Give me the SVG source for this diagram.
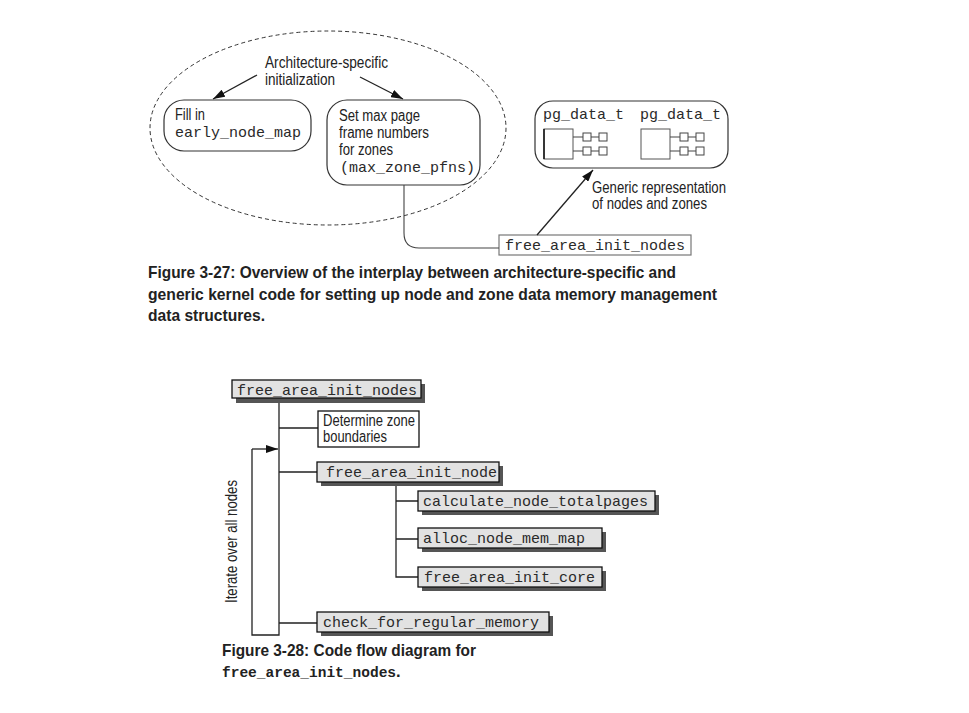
<svg xmlns="http://www.w3.org/2000/svg" width="969" height="713" viewBox="0 0 969 713">
<style>
.sans{font-family:"Liberation Sans",Arial,sans-serif;font-size:16px;fill:#222}
.mono{font-family:"Liberation Mono","Courier New",monospace;font-size:15px;fill:#2a2a2a}
.cap{font-family:"Liberation Sans",Arial,sans-serif;font-size:16.5px;font-weight:bold;fill:#222}
.capm{font-family:"Liberation Mono","Courier New",monospace;font-size:14.5px;font-weight:bold;fill:#222}
.rbox{fill:#fff;stroke:#333;stroke-width:1.2}
.line{fill:none;stroke:#222;stroke-width:1.3}
.gline{fill:none;stroke:#444;stroke-width:1.1}
.sbox{fill:#e2e2e2;stroke:#111;stroke-width:1.3}
.shadow{fill:#555}
</style>
<defs>
<marker id="arr" markerWidth="12" markerHeight="8" refX="12" refY="4" orient="auto" markerUnits="userSpaceOnUse">
<path d="M0,0 L12,4 L0,8 z" fill="#111"/>
</marker>
</defs>
<rect width="969" height="713" fill="#fff"/>

<!-- Figure 3-27 -->
<g id="arch-region">
<ellipse cx="328" cy="128" rx="178" ry="97" fill="none" stroke="#333" stroke-width="1" stroke-dasharray="4 3"/>
<text class="sans" x="265" y="68" textLength="123" lengthAdjust="spacingAndGlyphs">Architecture-specific</text>
<text class="sans" x="265" y="85" textLength="70" lengthAdjust="spacingAndGlyphs">initialization</text>
</g>
<g id="fill-in">
<rect class="rbox" x="164" y="100" width="147" height="51" rx="20"/>
<text class="sans" x="175" y="120" textLength="30" lengthAdjust="spacingAndGlyphs">Fill in</text>
<text class="mono" x="175" y="137">early_node_map</text>
</g>
<g id="set-max">
<rect class="rbox" x="327" y="100" width="153" height="85" rx="20"/>
<text class="sans" x="339" y="121" textLength="81" lengthAdjust="spacingAndGlyphs">Set max page</text>
<text class="sans" x="339" y="138" textLength="90" lengthAdjust="spacingAndGlyphs">frame numbers</text>
<text class="sans" x="339" y="155" textLength="54" lengthAdjust="spacingAndGlyphs">for zones</text>
<text class="mono" x="340" y="172">(max_zone_pfns)</text>
</g>
<g id="pg-data">
<rect class="rbox" x="535" y="101" width="193" height="67" rx="18"/>
<text class="mono" x="543" y="119">pg_data_t</text>
<text class="mono" x="640" y="119">pg_data_t</text>
<rect x="544" y="129" width="29" height="30" fill="#fff" stroke="#555" stroke-width="1"/>
<line x1="544" y1="129" x2="544" y2="159" stroke="#111" stroke-width="1.5"/>
<path class="gline" d="M573,137 H583 M591,137 H599 M573,151 H583 M591,151 H599"/>
<rect x="583" y="133" width="8" height="8" fill="#fff" stroke="#444"/>
<rect x="599" y="133" width="8" height="8" fill="#fff" stroke="#444"/>
<rect x="583" y="147" width="8" height="8" fill="#fff" stroke="#444"/>
<rect x="599" y="147" width="8" height="8" fill="#fff" stroke="#444"/>
<rect x="641" y="129" width="29" height="30" fill="#fff" stroke="#555" stroke-width="1"/>
<path class="gline" d="M670,137 H680 M688,137 H696 M670,151 H680 M688,151 H696"/>
<rect x="680" y="133" width="8" height="8" fill="#fff" stroke="#444"/>
<rect x="696" y="133" width="8" height="8" fill="#fff" stroke="#444"/>
<rect x="680" y="147" width="8" height="8" fill="#fff" stroke="#444"/>
<rect x="696" y="147" width="8" height="8" fill="#fff" stroke="#444"/>
</g>
<g id="generic-label">
<text class="sans" x="592" y="193" textLength="134" lengthAdjust="spacingAndGlyphs">Generic representation</text>
<text class="sans" x="592" y="209" textLength="115" lengthAdjust="spacingAndGlyphs">of nodes and zones</text>
</g>
<g id="fain-top">
<rect x="499" y="235" width="192" height="20" fill="#fff" stroke="#777" stroke-width="1.2"/>
<text class="mono" x="505" y="250">free_area_init_nodes</text>
</g>
<g id="connectors-top">
<line class="line" x1="257" y1="75" x2="213" y2="99" marker-end="url(#arr)"/>
<line class="line" x1="360" y1="77" x2="403" y2="99" marker-end="url(#arr)"/>
<line class="line" x1="537" y1="235" x2="593" y2="170" marker-end="url(#arr)"/>
<path class="gline" d="M404,185 V233 Q404,248 419,248 H499"/>
</g>
<g id="caption-27">
<text class="cap" x="148" y="278" textLength="528" lengthAdjust="spacingAndGlyphs">Figure 3-27: Overview of the interplay between architecture-specific and</text>
<text class="cap" x="148" y="300" textLength="569" lengthAdjust="spacingAndGlyphs">generic kernel code for setting up node and zone data memory management</text>
<text class="cap" x="148" y="321" textLength="117" lengthAdjust="spacingAndGlyphs">data structures.</text>
</g>

<!-- Figure 3-28 -->
<g id="connectors-bottom">
<path class="line" d="M279,398 V635 H252 V449"/>
<line class="line" x1="252" y1="449" x2="278" y2="449" marker-end="url(#arr)"/>
<path class="line" d="M279,428 H318 M279,472 H317 M279,623 H317"/>
<path class="line" d="M396,482 V577 H418 M396,501 H418 M396,539 H418"/>
</g>
<g id="n-fain">
<rect class="shadow" x="236" y="384" width="189" height="19"/>
<rect class="sbox" x="232" y="380" width="189" height="18"/>
<text class="mono" x="237" y="395">free_area_init_nodes</text>
</g>
<g id="n-determine">
<rect x="318" y="411" width="101" height="36" fill="#fff" stroke="#111" stroke-width="1.3"/>
<text class="sans" x="323" y="426" textLength="92" lengthAdjust="spacingAndGlyphs">Determine zone</text>
<text class="sans" x="323" y="442" textLength="64" lengthAdjust="spacingAndGlyphs">boundaries</text>
</g>
<g id="n-fain-node">
<rect class="shadow" x="321" y="466" width="182" height="20"/>
<rect class="sbox" x="317" y="462" width="182" height="20"/>
<text class="mono" x="326" y="477">free_area_init_node</text>
</g>
<g id="n-calc">
<rect class="shadow" x="422" y="495" width="237" height="20"/>
<rect class="sbox" x="418" y="491" width="237" height="20"/>
<text class="mono" x="423" y="506">calculate_node_totalpages</text>
</g>
<g id="n-alloc">
<rect class="shadow" x="422" y="532" width="184" height="20"/>
<rect class="sbox" x="418" y="528" width="184" height="20"/>
<text class="mono" x="423" y="543">alloc_node_mem_map</text>
</g>
<g id="n-core">
<rect class="shadow" x="422" y="571" width="184" height="20"/>
<rect class="sbox" x="418" y="567" width="184" height="20"/>
<text class="mono" x="424" y="582">free_area_init_core</text>
</g>
<g id="n-check">
<rect class="shadow" x="321" y="616" width="232" height="20"/>
<rect class="sbox" x="317" y="612" width="232" height="20"/>
<text class="mono" x="323" y="627">check_for_regular_memory</text>
</g>
<g id="loop-label">
<text class="sans" transform="translate(237,603) rotate(-90)" textLength="123" lengthAdjust="spacingAndGlyphs">Iterate over all nodes</text>
</g>
<g id="caption-28">
<text class="cap" x="222" y="656" textLength="254" lengthAdjust="spacingAndGlyphs">Figure 3-28: Code flow diagram for</text>
<text x="222" y="677"><tspan class="capm">free_area_init_nodes</tspan><tspan class="cap">.</tspan></text>
</g>
</svg>
